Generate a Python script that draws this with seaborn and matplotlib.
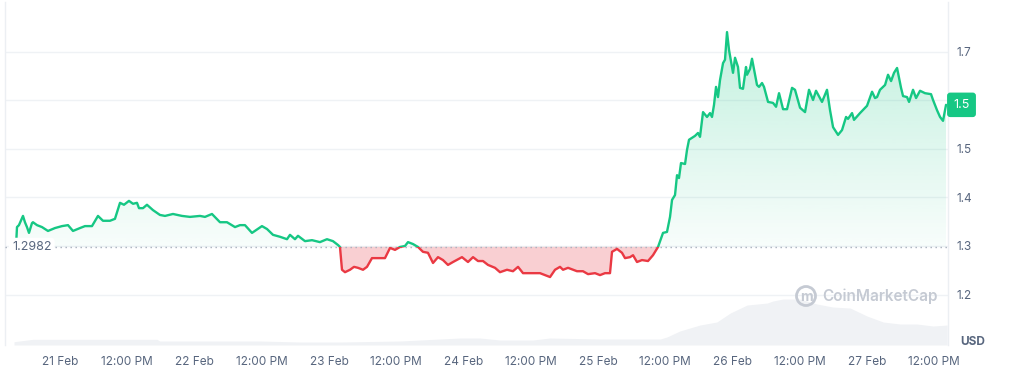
import numpy as np
import matplotlib
matplotlib.use("Agg")
import matplotlib.pyplot as plt
import seaborn as sns
from matplotlib.patches import Rectangle, Ellipse
from matplotlib.path import Path
from matplotlib.transforms import blended_transform_factory

# ---- data (hours relative to 21 Feb 00:00) ----
hours = [-7.85, -7.67, -7.32, -6.60, -6.25, -5.89, -5.53, -5.00, -4.82, -4.10,
         -3.21, -2.14, -0.89, 0.36, 1.43, 2.32, 3.57, 4.46, 5.71, 6.78,
         7.67, 8.92, 9.81, 10.71, 11.42, 12.31, 13.03, 13.74, 14.10, 14.81,
         15.52, 16.59, 17.84, 18.74, 20.16, 21.77, 23.20, 24.98, 25.87, 27.12,
         28.55, 29.80, 31.23, 32.12, 33.01, 34.26, 36.04, 36.94, 38.01, 39.26,
         40.51, 41.04, 41.93, 42.47, 43.72, 44.97, 46.39, 47.64, 48.71, 49.61,
         49.96, 50.32, 50.86, 51.75, 52.46, 53.17, 54.07, 54.78, 55.67, 56.74,
         57.99, 58.89, 59.78, 60.67, 61.56, 62.10, 62.99, 63.88, 64.77, 65.66,
         66.56, 67.45, 68.34, 69.23, 70.13, 71.73, 72.80, 73.70, 74.59, 75.48,
         76.37, 77.62, 78.51, 79.76, 80.83, 81.73, 82.62, 83.87, 85.65, 87.44,
         88.33, 89.22, 89.76, 90.65, 92.25, 93.32, 94.22, 95.47, 96.36, 97.25,
         98.14, 98.50, 99.39, 100.28, 100.82, 101.71, 102.25, 102.96, 103.85, 104.92,
         105.81, 106.71, 107.60, 108.31, 108.85, 109.21, 109.74, 110.10, 110.45, 110.81,
         111.53, 111.88, 112.24, 112.77, 113.31, 113.84, 114.20, 114.74, 115.45, 115.99,
         116.34, 116.70, 117.06, 117.41, 117.77, 118.31, 118.66, 119.02, 119.38, 120.09,
         120.45, 120.98, 121.34, 121.87, 122.41, 122.59, 123.12, 123.48, 124.37, 124.73,
         125.27, 125.62, 126.34, 127.23, 127.77, 128.30, 129.02, 129.73, 130.62, 131.15,
         132.05, 132.94, 133.65, 134.37, 134.90, 135.97, 136.86, 137.40, 137.94, 138.83,
         139.54, 140.26, 140.61, 141.33, 141.68, 142.75, 144.00, 144.90, 145.43, 145.79,
         146.32, 147.22, 147.75, 148.29, 148.82, 149.36, 150.07, 150.43, 151.14, 151.50,
         152.21, 152.75, 153.46, 154.35, 155.42, 155.78, 156.49, 157.03, 157.56, 158.10]

price = [1.2982, 1.339, 1.343, 1.362, 1.349, 1.339, 1.327, 1.347, 1.349, 1.343,
         1.339, 1.331, 1.337, 1.341, 1.343, 1.331, 1.337, 1.341, 1.341, 1.362,
         1.352, 1.352, 1.356, 1.389, 1.385, 1.393, 1.387, 1.389, 1.378, 1.378,
         1.385, 1.374, 1.364, 1.362, 1.366, 1.362, 1.360, 1.362, 1.360, 1.366,
         1.349, 1.349, 1.339, 1.343, 1.343, 1.327, 1.341, 1.335, 1.323, 1.319,
         1.314, 1.323, 1.314, 1.321, 1.310, 1.312, 1.308, 1.314, 1.310, 1.302,
         1.298, 1.251, 1.246, 1.251, 1.257, 1.255, 1.251, 1.257, 1.275, 1.275,
         1.275, 1.296, 1.292, 1.298, 1.300, 1.308, 1.304, 1.298, 1.288, 1.286,
         1.265, 1.277, 1.271, 1.261, 1.267, 1.277, 1.267, 1.277, 1.269, 1.269,
         1.261, 1.255, 1.246, 1.251, 1.248, 1.257, 1.244, 1.244, 1.244, 1.236,
         1.251, 1.257, 1.251, 1.255, 1.248, 1.248, 1.242, 1.244, 1.240, 1.244,
         1.244, 1.288, 1.294, 1.286, 1.275, 1.277, 1.281, 1.267, 1.271, 1.269,
         1.281, 1.298, 1.327, 1.329, 1.360, 1.395, 1.405, 1.446, 1.440, 1.471,
         1.469, 1.498, 1.519, 1.523, 1.527, 1.533, 1.525, 1.576, 1.566, 1.574,
         1.566, 1.591, 1.628, 1.607, 1.642, 1.677, 1.684, 1.741, 1.704, 1.657,
         1.688, 1.669, 1.626, 1.624, 1.669, 1.653, 1.665, 1.686, 1.632, 1.628,
         1.636, 1.628, 1.597, 1.595, 1.587, 1.615, 1.582, 1.582, 1.626, 1.622,
         1.585, 1.576, 1.622, 1.601, 1.620, 1.597, 1.622, 1.580, 1.545, 1.529,
         1.539, 1.566, 1.562, 1.574, 1.560, 1.574, 1.589, 1.618, 1.605, 1.607,
         1.622, 1.632, 1.653, 1.640, 1.657, 1.667, 1.626, 1.609, 1.607, 1.597,
         1.622, 1.605, 1.620, 1.615, 1.613, 1.601, 1.580, 1.566, 1.558, 1.591]

vol_hours = [-8.2, -4.8, 17.3, 17.8, 35.7, 42.8, 50.0, 60.7, 71.4, 74.9,
             78.5, 84.4, 87.4, 96.4, 107.1, 108.3, 110.6, 114.2, 117.2, 119.6,
             122.6, 126.2, 127.2, 129.0, 132.0, 135.1, 137.9, 141.0, 144.0, 146.9,
             149.9, 152.9, 155.8, 158.3]
volume = [1.65, 2.85, 2.85, 2.0, 2.0, 1.5, 1.5, 2.0, 3.5, 3.5,
          2.5, 2.5, 3.5, 3.0, 3.0, 4.0, 7.0, 10.0, 11.5, 16.0,
          20.0, 21.0, 22.0, 23.0, 23.0, 20.5, 19.0, 18.5, 14.5, 11.5,
          10.5, 10.5, 9.5, 10.0]

baseline = 1.2982
baseline_label = "1.2982"
last_label = "1.5"
y_ticks = [1.2, 1.3, 1.4, 1.5, 1.6, 1.7]
y_tick_labels = ["1.2", "1.3", "1.4", "1.5", "", "1.7"]
x_ticks = [0, 12, 24, 36, 48, 60, 72, 84, 96, 108, 120, 132, 144, 156]
x_tick_labels = ["21 Feb", "12:00 PM", "22 Feb", "12:00 PM", "23 Feb", "12:00 PM",
                 "24 Feb", "12:00 PM", "25 Feb", "12:00 PM", "26 Feb", "12:00 PM",
                 "27 Feb", "12:00 PM"]

GREEN = "#16c784"
RED = "#ea3943"
GRAY_TXT = "#58667e"
GRID = "#eff2f5"

sns.set_theme(style="white")
plt.rcParams['font.family'] = ['Inter', 'DejaVu Sans']

W, H = 1009, 369
fig = plt.figure(figsize=(W / 100, H / 100), dpi=100)
rect = [5 / W, 24 / H, 943 / W, 343 / H]
XMIN, XMAX = -9.81, 158.45
YMIN, YMAX = 1.0959, 1.803

# volume axes (behind)
axv = fig.add_axes(rect, zorder=0)
axv.fill_between(vol_hours, volume, 0, color="#f0f2f5", linewidth=0)
axv.set_xlim(XMIN, XMAX)
axv.set_ylim(0, max(volume) / 0.134)
axv.axis("off")

ax = fig.add_axes(rect, zorder=1)
ax.patch.set_alpha(0)
ax.set_xlim(XMIN, XMAX)
ax.set_ylim(YMIN, YMAX)

h = np.array(hours)
p = np.array(price)

# green gradient fill above baseline
poly = ax.fill_between(h, p, baseline, where=p >= baseline, interpolate=True,
                       color="none", linewidth=0)
clip = Path.make_compound_path(*poly.get_paths())
top = p.max()
n = 256
grad = np.zeros((n, 1, 4))
r, g, b = matplotlib.colors.to_rgb(GREEN)
grad[:, 0, 0], grad[:, 0, 1], grad[:, 0, 2] = r, g, b
grad[:, 0, 3] = np.linspace(0.03, 0.26, n)
im = ax.imshow(grad, extent=[XMIN, XMAX, baseline, top], origin="lower",
               aspect="auto", zorder=2, interpolation="bilinear")
im.set_clip_path(clip, transform=ax.transData)

# red fill below baseline
ax.fill_between(h, p, baseline, where=p < baseline, interpolate=True,
                color=RED, alpha=0.24, linewidth=0, zorder=2)

# price line, green above / red below the baseline
sns.lineplot(x=h, y=p, ax=ax, color=GREEN, linewidth=1.7, zorder=4)
lg = ax.lines[-1]
lg.set_clip_path(Rectangle((XMIN, baseline), XMAX - XMIN, 5, transform=ax.transData))
sns.lineplot(x=h, y=p, ax=ax, color=RED, linewidth=1.7, zorder=4)
lr = ax.lines[-1]
lr.set_clip_path(Rectangle((XMIN, baseline - 5), XMAX - XMIN, 5, transform=ax.transData))

# dotted reference line
ax.axhline(baseline, color="#a7afbd", linestyle=(0, (1, 2.6)), linewidth=1, zorder=3)

# axes styling
ax.set_yticks(y_ticks, y_tick_labels)
ax.set_xticks(x_ticks, x_tick_labels)
ax.yaxis.tick_right()
ax.yaxis.grid(True, color=GRID, linewidth=1)
ax.xaxis.grid(False)
ax.tick_params(axis="y", length=0, pad=6, labelsize=8.5, labelcolor=GRAY_TXT)
ax.tick_params(axis="x", length=0, pad=8, labelsize=8.5, labelcolor=GRAY_TXT)
for side in ["top", "bottom"]:
    ax.spines[side].set_visible(False)
for side in ["left", "right"]:
    ax.spines[side].set_visible(True)
    ax.spines[side].set_color("#eceff3")
    ax.spines[side].set_linewidth(1)
ax.set_xlabel("")
ax.set_ylabel("")

# baseline label on the left
ax.text(7 / 943, baseline, baseline_label, transform=blended_transform_factory(ax.transAxes, ax.transData),
        ha="left", va="center", fontsize=9, color=GRAY_TXT, zorder=6,
        bbox=dict(boxstyle="round,pad=0.25,rounding_size=0.3", fc="white", ec="none"))

# current price badge
ax.text(1 + 13.5 / 943, price[-1], last_label,
        transform=blended_transform_factory(ax.transAxes, ax.transData),
        ha="center", va="center", fontsize=9, color="white", zorder=10, clip_on=False,
        bbox=dict(boxstyle="round,pad=0.5,rounding_size=0.25", fc=GREEN, ec="none"))

# currency label
fig.text(973 / W, 1 - 342 / H, "USD", ha="center", va="center", fontsize=8.5,
         fontweight="bold", color=GRAY_TXT)

# watermark
wm = "#c5cad3"
logo = Ellipse((806 / W, 1 - 296 / H), 19 / W, 19 / H, transform=fig.transFigure,
               fill=False, ec=wm, lw=2.0)
fig.patches.append(logo)
fig.text(806 / W, 1 - 297 / H, "m", ha="center", va="center", fontsize=10,
         fontweight="bold", color=wm)
fig.text(822 / W, 1 - 296 / H, "CoinMarketCap", ha="left", va="center", fontsize=11,
         fontweight="semibold", color=wm)

fig.savefig("out.png", dpi=100)
